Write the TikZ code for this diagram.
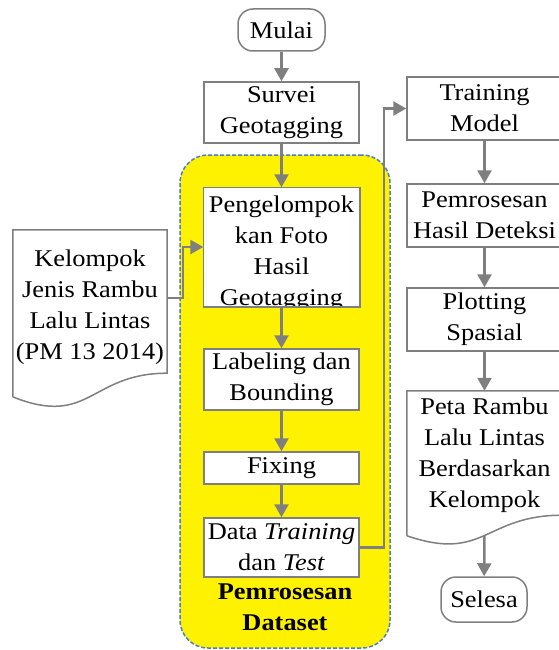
\documentclass[tikz,border=0pt]{standalone}
\usepackage{fontspec}
\setmainfont{Liberation Serif}[FakeStretch=1.1]
\usetikzlibrary{arrows.meta,calc}

\definecolor{linegrey}{HTML}{7F7F7F}
\definecolor{dashblue}{HTML}{4A7EC8}

\tikzset{
    every node/.style = {font=\fontsize{24}{31}\selectfont},
    box/.style = {draw=linegrey, line width=1.5pt, fill=white, minimum width=155pt,
                  inner sep=0pt, align=center},
    terminal/.style = {box, rounded corners=15pt, minimum width=87pt, minimum height=42pt},
    docbox/.style = {inner sep=0pt, minimum width=155pt},
    outline/.style = {draw=linegrey, line width=1.5pt},
    flow/.style = {draw=linegrey, line width=2.5pt, -{Triangle[length=13pt,width=14pt]}}
}

% document shape: text area plus a wavy bottom edge
\newcommand{\docwave}[1]{%
    \draw[outline] let \p1=(#1.north west), \p2=(#1.south east) in
        (\x1,{\y2-0.165*(\y1-\y2)}) -- (\p1) -- (\x2,\y1) -- (\p2)
        .. controls ({0.5*\x1+0.5*\x2},\y2) and ({0.5*\x1+0.5*\x2},{\y2-0.38*(\y1-\y2)})
        .. (\x1,{\y2-0.165*(\y1-\y2)});}

\begin{document}
\begin{tikzpicture}[x=1pt, y=-1pt]
    \useasboundingbox (0,0) rectangle (558,650);

    % dataset group
    \node[draw=dashblue, fill=yellow, rounded corners=28pt, line width=1.5pt,
          dash pattern=on 4pt off 2pt, minimum width=210pt, minimum height=493pt]
          (dataset) at (285,401.5) {};
    \node[font=\fontsize{24}{31}\selectfont\bfseries, align=center]
          (datasetlabel) at (285,607) {Pemrosesan\\Dataset};

    % middle column
    \node[terminal] (mulai) at (281.5,30) {Mulai};
    \node[box, minimum height=61pt] (survei) at (281.5,112.5) {Survei\\Geotagging};
    \node[box, draw=none, minimum height=118pt] (pengelompokan) at (281.5,247) {};
    \begin{scope}
        \clip (pengelompokan.north west) rectangle (pengelompokan.south east);
        \node[align=center, inner sep=0pt] (pengelompokantext) at (281.5,253)
            {Pengelompok\\kan Foto\\Hasil\\Geotagging};
    \end{scope}
    \draw[outline] (pengelompokan.north west) rectangle (pengelompokan.south east);
    \node[box, minimum height=61pt] (labeling) at (281.5,379.5) {Labeling dan\\Bounding};
    \node[box, minimum height=32pt] (fixing) at (281.5,468) {Fixing};
    \node[box, minimum height=59pt] (data) at (281.5,547.5)
        {Data \textit{Training}\\dan \textit{Test}};

    % left input document
    \node[docbox, minimum width=154pt, minimum height=143pt] (kelompok) at (90,301.5) {};
    \docwave{kelompok}
    \node[align=center, inner sep=0pt] (kelompoktext) at (90,307)
        {Kelompok\\Jenis Rambu\\Lalu Lintas\\(PM 13 2014)};

    % right column
    \node[box, minimum height=63pt] (training) at (484.5,108.5) {Training\\Model};
    \node[box, minimum height=63pt] (hasil) at (484.5,215.5) {Pemrosesan\\Hasil Deteksi};
    \node[box, minimum height=63pt] (plotting) at (484.5,319.5) {Plotting\\Spasial};
    \node[docbox, minimum height=124pt] (peta) at (484.5,453) {};
    \docwave{peta}
    \node[align=center, inner sep=0pt] (petatext) at (484.5,455.5)
        {Peta Rambu\\Lalu Lintas\\Berdasarkan\\Kelompok};
    \coordinate (petaend) at (484.5,535);
    \node[terminal, minimum width=86pt, minimum height=45pt] (selesa) at (484,599.5) {Selesa};

    % connectors
    \draw[flow] (mulai) -- (survei);
    \draw[flow] (survei) -- (pengelompokan);
    \draw[flow] ([yshift=3.5pt]kelompok.east) -- ++(16,0) |- (pengelompokan.west);
    \draw[flow] (pengelompokan) -- (labeling);
    \draw[flow] (labeling) -- (fixing);
    \draw[flow] (fixing) -- (data);
    \draw[flow] (data.east) -- ++(24,0) |- (training.west);
    \draw[flow] (training) -- (hasil);
    \draw[flow] (hasil) -- (plotting);
    \draw[flow] (plotting) -- (peta);
    \draw[flow] (petaend) -- (selesa);
\end{tikzpicture}
\end{document}
